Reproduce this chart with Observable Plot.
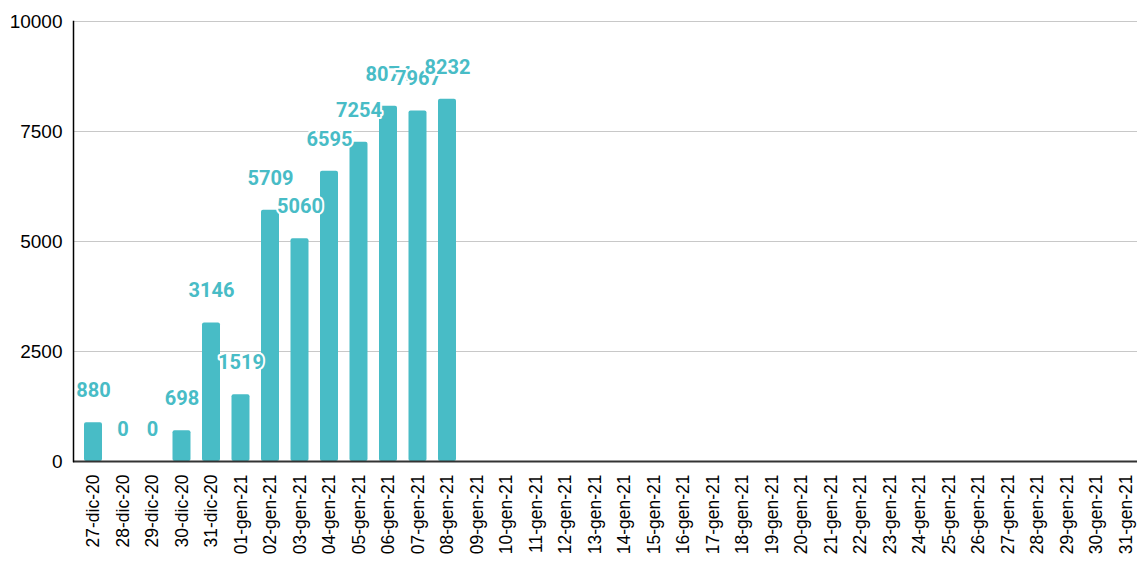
<!DOCTYPE html>
<html><head><meta charset="utf-8">
<script src="https://cdn.jsdelivr.net/npm/d3@7"></script>
<script src="https://cdn.jsdelivr.net/npm/@observablehq/plot@0.6"></script>
<style>body{margin:0;background:#fff}</style>
</head><body><div id="chart"></div>
<script>
const dates = ["27-dic-20","28-dic-20","29-dic-20","30-dic-20","31-dic-20",
  "01-gen-21","02-gen-21","03-gen-21","04-gen-21","05-gen-21","06-gen-21","07-gen-21","08-gen-21",
  "09-gen-21","10-gen-21","11-gen-21","12-gen-21","13-gen-21","14-gen-21","15-gen-21","16-gen-21",
  "17-gen-21","18-gen-21","19-gen-21","20-gen-21","21-gen-21","22-gen-21","23-gen-21","24-gen-21",
  "25-gen-21","26-gen-21","27-gen-21","28-gen-21","29-gen-21","30-gen-21","31-gen-21"];
const values = [880,0,0,698,3146,1519,5709,5060,6595,7254,8074,7967,8232];
const yTicks = [0,2500,5000,7500,10000];

const data = values.map((v,i)=>({date:dates[i], value:v}));
const color = "#48BCC6";

const chart = Plot.plot({
  width: 1137, height: 562,
  marginLeft: 73, marginRight: 0, marginTop: 21, marginBottom: 101,
  style: {fontFamily: "Roboto, 'Liberation Sans', sans-serif", background: "#fff"},
  x: {domain: dates, range: [78.25, 1140.25], paddingInner: 0.39, paddingOuter: 0.195, round: false, label: null},
  y: {domain: [0,10000], label: null},
  marks: [
    Plot.gridY(yTicks, {stroke: "#c8c8c8", strokeOpacity: 1, strokeWidth: 1}),
    Plot.axisY(yTicks, {tickSize: 0, tickPadding: 11, fontSize: 19, fill: "#000", label: null,
      tickFormat: d => String(d), fontFamily: "'Liberation Sans', Arial, sans-serif"}),
    Plot.axisX({tickSize: 0, tickRotate: -90, tickPadding: 13, fontSize: 17.5, fill: "#000", label: null,
      fontFamily: "'Liberation Sans', Arial, sans-serif"}),
    Plot.barY(data, {x: "date", y: "value", fill: color, rx: 2}),
    Plot.text(data, {x: "date", y: "value", text: d => String(d.value), dy: -32,
      fill: color, stroke: "white", strokeWidth: 4, fontWeight: "bold", fontSize: 20,
      fontFamily: "Roboto, sans-serif"}),
    Plot.ruleY([0], {stroke: "#333", strokeWidth: 2}),
    Plot.frame({anchor: "left", stroke: "#000", strokeWidth: 1.5})
  ]
});
document.getElementById("chart").appendChild(chart);
</script></body></html>
